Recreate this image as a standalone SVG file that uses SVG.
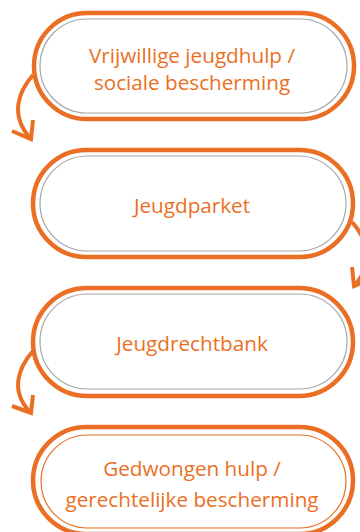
<svg xmlns="http://www.w3.org/2000/svg" width="360" height="532" viewBox="0 0 360 532">
<style>
.outer{fill:#fff;stroke:#EA6F24;stroke-width:4.5}
.inner{fill:none;stroke:#A6A6A6;stroke-width:1.2}
.inner2{fill:none;stroke:#EA6F24;stroke-width:1.2}
.lbl{font-family:"Open Sans","Liberation Sans",sans-serif;font-size:20.7px;fill:#EA6F24;text-anchor:middle}
.arr{fill:none;stroke:#EA6F24;stroke-width:4;stroke-linecap:butt;stroke-linejoin:miter}
</style>
<rect width="360" height="532" fill="#fff"/>
<g id="connectors">
<path class="arr" d="M33,75 C18,92 10,115 30,138"/>
<polyline class="arr" points="12,131 31,139 33,120"/>
<path class="arr" d="M352,222 C367,239 375,262 355,285"/>
<polyline class="arr" points="373,278 354,286 352,267"/>
<path class="arr" d="M33,351 C18,368 10,391 30,412"/>
<polyline class="arr" points="12,406 31,413 33,395"/>
</g>
<g id="node1">
<rect class="outer" x="34" y="13" width="320" height="106" rx="53"/>
<rect class="inner" x="40" y="19" width="307" height="94" rx="47"/>
<text class="lbl" x="192" y="63">Vrijwillige jeugdhulp /</text>
<text class="lbl" x="192" y="90">sociale bescherming</text>
</g>
<g id="node2">
<rect class="outer" x="33" y="150" width="320" height="107" rx="53.5"/>
<rect class="inner" x="40" y="156" width="306" height="95" rx="47.5"/>
<text class="lbl" x="192" y="213">Jeugdparket</text>
</g>
<g id="node3">
<rect class="outer" x="33" y="288" width="320" height="108" rx="54"/>
<rect class="inner" x="40" y="294" width="307" height="95" rx="47.5"/>
<text class="lbl" x="192" y="351">Jeugdrechtbank</text>
</g>
<g id="node4">
<rect class="outer" x="33" y="427" width="320" height="107" rx="53.5"/>
<rect class="inner2" x="41" y="435" width="305" height="93" rx="46.5"/>
<text class="lbl" x="192" y="476">Gedwongen hulp /</text>
<text class="lbl" x="192" y="507">gerechtelijke bescherming</text>
</g>
</svg>
